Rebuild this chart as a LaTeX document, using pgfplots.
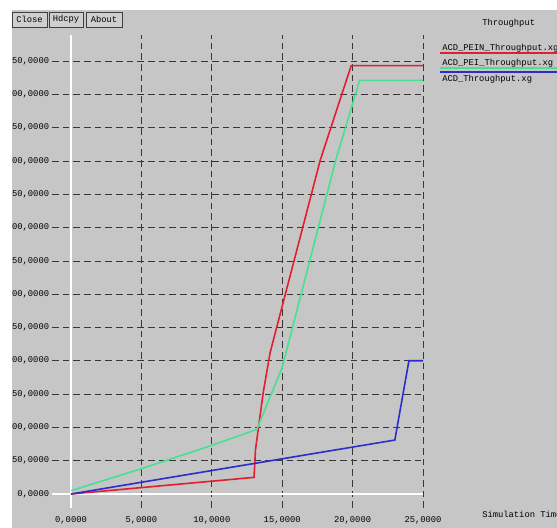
\documentclass[border=0pt]{standalone}
\usepackage{pgfplots}
\pgfplotsset{compat=1.18}
\usepackage{fontspec}
\setmainfont{Liberation Sans}
\newfontfamily\xfont{Liberation Mono}
\definecolor{bg}{RGB}{198,198,198}
\definecolor{gridc}{RGB}{55,55,55}
\definecolor{cred}{RGB}{228,30,50}
\definecolor{cgreen}{RGB}{70,225,145}
\definecolor{cblue}{RGB}{45,45,205}
\newcommand{\la}{0,0000}
\newcommand{\lb}{50,0000}
\newcommand{\lc}{00,0000}
\begin{document}
\begin{tikzpicture}[font=\xfont\fontsize{6.6}{7}\selectfont]
\begin{scope}[x=0.75pt,y=0.75pt]
\useasboundingbox (0,0) rectangle (557,528);
\fill[white] (0,0) rectangle (557,528);
\fill[bg] (12,0) rectangle (557,518);
\foreach \a/\b/\t in {12/47/Close,49/83/Hdcpy,86/122/About}{
  \draw[black!75,fill=bg!85!white,line width=0.6pt] (\a,{528-12}) rectangle (\b,{528-27});
  \node[inner sep=0pt] at ({(\a+\b)/2},{528-19.5}) {\t};
}
\node[anchor=west,inner sep=0pt] at (482,{528-23}) {Throughput};
\node[anchor=west,inner sep=0pt] at (442,{528-48}) {ACD\_PEIN\_Throughput.xg};
\draw[cred,line width=1.2pt] (440,{528-53}) -- (557,{528-53});
\node[anchor=west,inner sep=0pt] at (442,{528-63}) {ACD\_PEI\_Throughput.xg};
\draw[cgreen,line width=1.2pt] (440,{528-68}) -- (557,{528-68});
\draw[cblue,line width=1.2pt] (440,{528-72}) -- (557,{528-72});
\node[anchor=west,inner sep=0pt] at (442,{528-79}) {ACD\_Throughput.xg};
\node[anchor=west,inner sep=0pt] at (482,{528-514}) {Simulation Time};
\end{scope}
\begin{axis}[
  at={(39pt,15pt)}, anchor=south west, scale only axis,
  width=278.25pt, height=354.75pt,
  xmin=-1.35, xmax=25, ymin=-21, ymax=689,
  axis line style={draw=none}, major tick length=0pt,
  xtick={5,10,15,20,25},
  xticklabels={{5,0000},{10,0000},{15,0000},{20,0000},{25,0000}},
  extra x ticks={0}, extra x tick labels={\la},
  extra x tick style={grid style={white,solid,line width=1.3pt}},
  ytick={50,100,...,650},
  yticklabels={\lb,\lc,\lb,\lc,\lb,\lc,\lb,\lc,\lb,\lc,\lb,\lc,\lb},
  extra y ticks={0}, extra y tick labels={\la},
  extra y tick style={grid style={white,solid,line width=0.8pt}},
  grid=major,
  grid style={gridc,dash pattern=on 5pt off 3pt,line width=0.5pt},
  tick label style={font=\xfont\fontsize{6.6}{7}\selectfont,inner sep=0pt},
  yticklabel style={anchor=east,xshift=-2pt},
  xticklabel style={anchor=north,yshift=-6pt},
]
\addplot[cred,line width=1.2pt] coordinates {(0,0) (13.0,25) (13.1,66) (13.65,152) (14.14,212) (17.7,501) (19.9,643) (25,643)};
\addplot[cgreen,line width=1.2pt] coordinates {(0,5) (5,38) (10,73) (13.2,97) (15,190) (18.8,501) (20.5,621) (25,621)};
\addplot[cblue,line width=1.2pt] coordinates {(0,0) (23,81) (24,200) (25,200)};
\end{axis}
\end{tikzpicture}
\end{document}
